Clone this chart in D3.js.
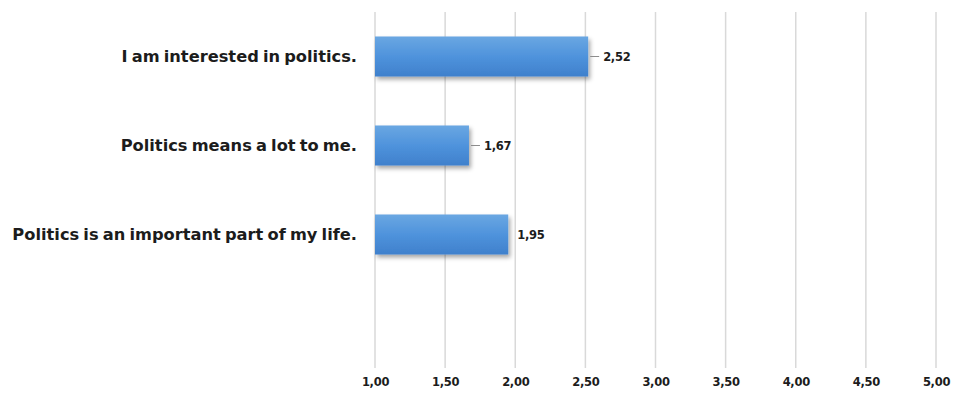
<!DOCTYPE html>
<html>
<head>
<meta charset="utf-8">
<script src="https://cdn.jsdelivr.net/npm/d3@7"></script>
<style>
  html, body { margin: 0; padding: 0; background: #fff; }
  svg { display: block; }
  text { font-family: "DejaVu Sans", Lato, sans-serif; font-weight: bold; fill: #1c1c1c; }
</style>
</head>
<body>
<svg id="chart" width="954" height="399"></svg>
<script>
const categories = [
  "I am interested in politics.",
  "Politics means a lot to me.",
  "Politics is an important part of my life.",
  ""
];
const values = [2.52, 1.67, 1.95];
const tickValues = [1.0, 1.5, 2.0, 2.5, 3.0, 3.5, 4.0, 4.5, 5.0];
const showLeader = [true, true, false];

const W = 954, H = 399;
const margin = { top: 12, right: 18, bottom: 31, left: 375 };
const svg = d3.select("#chart");

const locale = d3.formatLocale({ decimal: ",", thousands: ".", grouping: [3], currency: ["", ""] });
const fmt = locale.format(".2f");

const x = d3.scaleLinear().domain([1, 5]).range([margin.left, W - margin.right]);
const y = d3.scaleBand().domain(categories).range([margin.top, H - margin.bottom]).paddingInner(0.55).paddingOuter(0.275);

const defs = svg.append("defs");
const grad = defs.append("linearGradient").attr("id", "barGrad").attr("x1", 0).attr("y1", 0).attr("x2", 0).attr("y2", 1);
grad.append("stop").attr("offset", "0%").attr("stop-color", "#6aa7e2");
grad.append("stop").attr("offset", "50%").attr("stop-color", "#4f93dc");
grad.append("stop").attr("offset", "100%").attr("stop-color", "#3f80cc");
const shadow = defs.append("filter").attr("id", "shadow").attr("x", "-10%").attr("y", "-20%").attr("width", "130%").attr("height", "160%");
shadow.append("feDropShadow").attr("dx", 2).attr("dy", 3).attr("stdDeviation", 2.2).attr("flood-color", "#000").attr("flood-opacity", 0.35);

// gridlines
svg.append("g")
  .selectAll("line")
  .data(tickValues)
  .join("line")
  .attr("x1", d => x(d)).attr("x2", d => x(d))
  .attr("y1", margin.top).attr("y2", H - margin.bottom)
  .attr("stroke", "#d9d9d9").attr("stroke-width", 1.5);

// x axis labels
const xAxis = d3.axisBottom(x).tickValues(tickValues).tickFormat(fmt).tickSize(0).tickPadding(10);
const gx = svg.append("g").attr("transform", `translate(0,${H - margin.bottom})`).call(xAxis);
gx.select(".domain").remove();
gx.selectAll("text").style("font-size", "11.5px").style("font-family", "'DejaVu Sans', sans-serif").style("font-weight", "bold").style("letter-spacing", "-0.3px").attr("fill", "#1c1c1c");

// bars
const data = values.map((v, i) => ({ cat: categories[i], v, lead: showLeader[i] }));
svg.append("g")
  .selectAll("rect")
  .data(data)
  .join("rect")
  .attr("x", x(1))
  .attr("y", d => y(d.cat))
  .attr("width", d => x(d.v) - x(1))
  .attr("height", y.bandwidth())
  .attr("fill", "url(#barGrad)")
  .attr("filter", "url(#shadow)");

// leader lines
svg.append("g")
  .selectAll("line")
  .data(data.filter(d => d.lead))
  .join("line")
  .attr("x1", d => x(d.v) + 2).attr("x2", d => x(d.v) + 11)
  .attr("y1", d => y(d.cat) + y.bandwidth() / 2).attr("y2", d => y(d.cat) + y.bandwidth() / 2)
  .attr("stroke", "#8c8c8c").attr("stroke-width", 1);

// value labels
svg.append("g")
  .selectAll("text")
  .data(data)
  .join("text")
  .attr("x", d => x(d.v) + (d.lead ? 15 : 9))
  .attr("y", d => y(d.cat) + y.bandwidth() / 2)
  .attr("dy", "0.35em")
  .style("font-size", "11.5px")
  .style("letter-spacing", "-0.3px")
  .text(d => fmt(d.v));

// category labels
const catG = svg.append("g");
const catLabels = catG.selectAll("text")
  .data(categories.filter(c => c))
  .join("text")
  .attr("x", margin.left - 18)
  .attr("y", d => y(d) + y.bandwidth() / 2)
  .attr("dy", "0.35em")
  .attr("text-anchor", "end")
  .style("font-size", "15px")
  .style("word-spacing", "-1.5px")
  .text(d => d);
// fit the longest label to the width it has in the source
const len = d3.max(catLabels.nodes(), n => n.getComputedTextLength());
const targetW = 344;
const fs = Math.min(17, 15 * targetW / len);
catLabels.style("font-size", fs.toFixed(2) + "px");
</script>
</body>
</html>
